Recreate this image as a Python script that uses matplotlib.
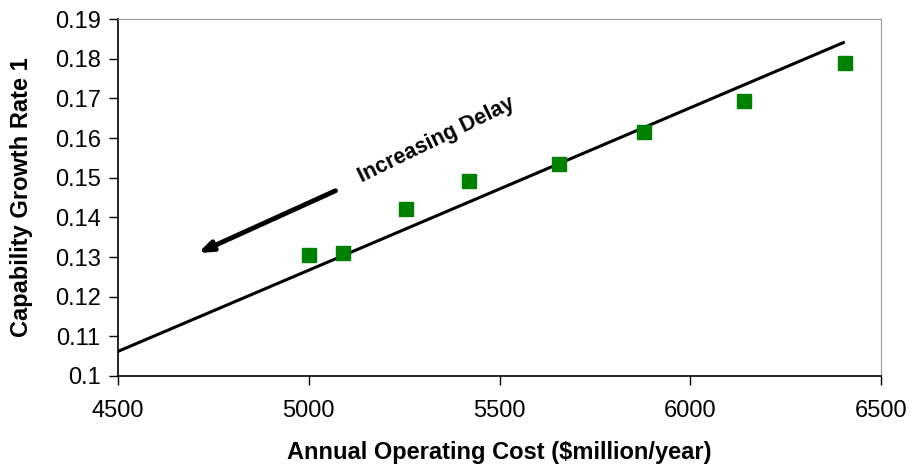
import matplotlib
matplotlib.use("Agg")
from matplotlib import pyplot as plt
import numpy as np

plt.rcParams['font.family'] = ['Liberation Sans', 'DejaVu Sans']

# data
cost = [5000, 5090, 5255, 5420, 5655, 5880, 6140, 6405]
growth = [0.1305, 0.131, 0.1421, 0.1491, 0.1534, 0.1614, 0.1693, 0.1790]

# trend line end points
trend_x = [4500, 6405]
trend_y = [0.1062, 0.1842]

# arrow (tail -> head) and label position
arrow_tail = (5070, 0.1467)
arrow_head = (4710, 0.1310)
label_pos = (5335, 0.1595)

fig = plt.figure(figsize=(9.14, 4.71), dpi=100)
ax = fig.add_axes([118/914, 95/471, 763/914, 357/471])

ax.plot(trend_x, trend_y, color='black', lw=2.2, zorder=2, solid_capstyle='butt')
ax.plot(cost, growth, ls='none', marker='s', ms=10, color='#008000',
        markeredgecolor='#008000', zorder=3)

ax.annotate('', xy=arrow_head, xytext=arrow_tail,
            arrowprops=dict(arrowstyle='-|>,head_length=0.8,head_width=0.3',
                            color='black', lw=3.5, shrinkA=0, shrinkB=0))
ax.text(label_pos[0], label_pos[1], 'Increasing Delay', rotation=26,
        ha='center', va='center', fontsize=15.5, fontweight='bold',
        rotation_mode='anchor')

ax.set_xlim(4500, 6500)
ax.set_ylim(0.1, 0.19)
ax.set_xticks(np.arange(4500, 6501, 500))
ax.set_yticks(np.arange(0.10, 0.1901, 0.01))
ax.set_yticklabels(['0.1', '0.11', '0.12', '0.13', '0.14', '0.15',
                    '0.16', '0.17', '0.18', '0.19'])

ax.tick_params(direction='out', length=6.5, width=1, labelsize=17, color='black')
ax.tick_params(axis='x', pad=11)
ax.tick_params(axis='y', pad=6)
for side in ['top', 'right']:
    ax.spines[side].set_color('#999999')
for side in ['left', 'bottom']:
    ax.spines[side].set_color('black')
    ax.spines[side].set_linewidth(1.2)

ax.set_xlabel('Annual Operating Cost ($million/year)', fontsize=17,
              fontweight='bold', va='center')
ax.set_ylabel('Capability Growth Rate 1', fontsize=17, fontweight='bold',
              va='center')
ax.xaxis.set_label_coords(0.5, -0.213)
ax.yaxis.set_label_coords(-0.126, 0.5)

fig.savefig('out.png', dpi=100)
